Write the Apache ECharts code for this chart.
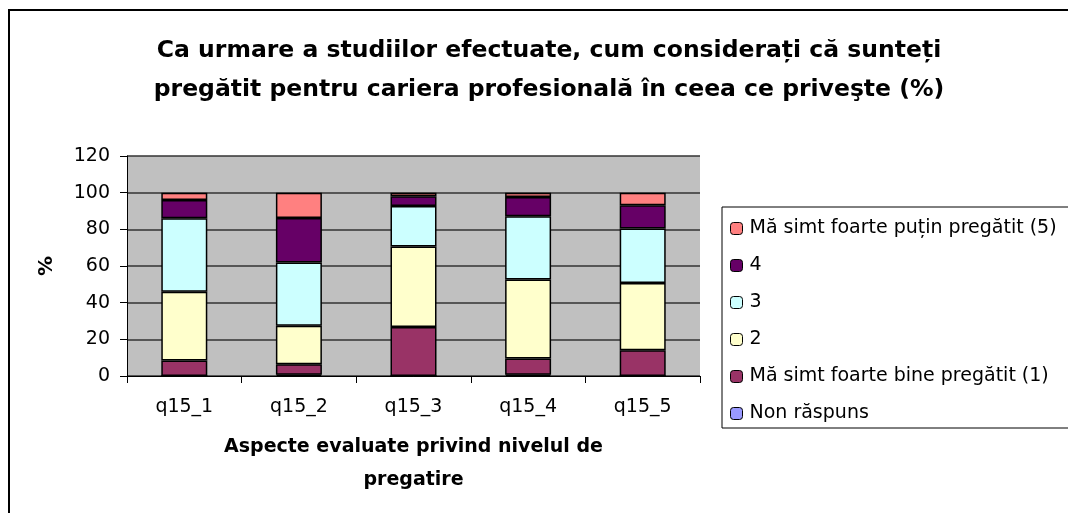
<!DOCTYPE html>
<html>
<head>
<meta charset="utf-8">
<script src="https://cdn.jsdelivr.net/npm/echarts@6/dist/echarts.min.js"></script>
<style>
  html, body { margin: 0; padding: 0; background: #fff; }
  #main { width: 1068px; height: 513px; }
</style>
</head>
<body>
<div id="main"></div>
<script>
// categorii si valori (%)
const categories = ['q15_1', 'q15_2', 'q15_3', 'q15_4', 'q15_5'];
const nonRaspuns = [0, 0.7, 0, 0.7, 0];
const nota1 = [8.5, 5.7, 26.7, 8.8, 14];
const nota2 = [37.5, 21, 44, 43.2, 36.7];
const nota3 = [40, 34.5, 22, 34.4, 29.7];
const nota4 = [10, 24.3, 5.3, 10.5, 12.7];
const nota5 = [4, 13.8, 2, 2.4, 6.9];

const font = "'DejaVu Sans', 'Liberation Sans', Arial, sans-serif";
const names = ['Non răspuns', 'Mă simt foarte bine pregătit (1)', '2', '3', '4', 'Mă simt foarte puțin pregătit (5)'];
const colors = ['#9999FF', '#993366', '#FFFFCC', '#CCFFFF', '#660066', '#FF8080'];
const values = [nonRaspuns, nota1, nota2, nota3, nota4, nota5];

var chartDom = document.getElementById('main');
var myChart = echarts.init(chartDom);
var option;

option = {
  backgroundColor: '#fff',
  animation: false,
  textStyle: { fontFamily: font, color: '#000' },
  title: {
    text: 'Ca urmare a studiilor efectuate, cum considerați că sunteți\npregătit pentru cariera profesională în ceea ce priveşte (%)',
    left: 544,
    top: 26,
    textAlign: 'center',
    textStyle: { fontFamily: font, fontSize: 23.5, fontWeight: 'bold', color: '#000', lineHeight: 39 }
  },
  graphic: [
    { type: 'rect', shape: { x: 9, y: 10, width: 1100, height: 600 }, style: { fill: 'none', stroke: '#000', lineWidth: 2 }, silent: true },
    { type: 'rect', shape: { x: 722, y: 207, width: 400, height: 221 }, style: { fill: '#fff', stroke: '#000', lineWidth: 1 }, silent: true, z: -1 }
  ],
  legend: {
    orient: 'vertical',
    left: 725,
    top: 214,
    itemWidth: 12,
    itemHeight: 12,
    itemGap: 18,
    data: names.slice().reverse(),
    textStyle: { fontFamily: font, fontSize: 19, color: '#000', padding: [0, 0, 0, 2] },
    itemStyle: { borderColor: '#000', borderWidth: 1 }
  },
  grid: { left: 127, right: 368, top: 156, bottom: 137, outerBoundsMode: 'none', show: true, backgroundColor: '#C0C0C0', borderWidth: 0 },
  xAxis: {
    type: 'category',
    data: categories,
    name: 'Aspecte evaluate privind nivelul de\npregatire',
    nameLocation: 'middle',
    nameGap: 55,
    nameTextStyle: { fontFamily: font, fontSize: 19, fontWeight: 'bold', color: '#000', lineHeight: 33 },
    axisLine: { lineStyle: { color: '#000', width: 1 } },
    axisTick: { show: true, length: 7, lineStyle: { color: '#000' } },
    axisLabel: { fontSize: 19, color: '#000', margin: 22 }
  },
  yAxis: {
    type: 'value',
    min: 0,
    max: 120,
    interval: 20,
    name: '%',
    nameLocation: 'middle',
    nameGap: 70,
    nameRotate: 90,
    nameTextStyle: { fontFamily: font, fontSize: 20, fontWeight: 'bold', color: '#000' },
    axisLine: { show: true, lineStyle: { color: '#000', width: 1 } },
    axisTick: { show: true, length: 7, lineStyle: { color: '#000' } },
    axisLabel: { fontSize: 19, color: '#000', margin: 17 },
    splitLine: { lineStyle: { color: '#333', width: 1.5 } }
  },
  series: names.map((n, i) => ({
    name: n,
    type: 'bar',
    stack: 'Total',
    barWidth: 46,
    data: values[i],
    itemStyle: { color: colors[i], borderColor: '#000', borderWidth: 1.5 }
  }))
};

option && myChart.setOption(option);
</script>
</body>
</html>
